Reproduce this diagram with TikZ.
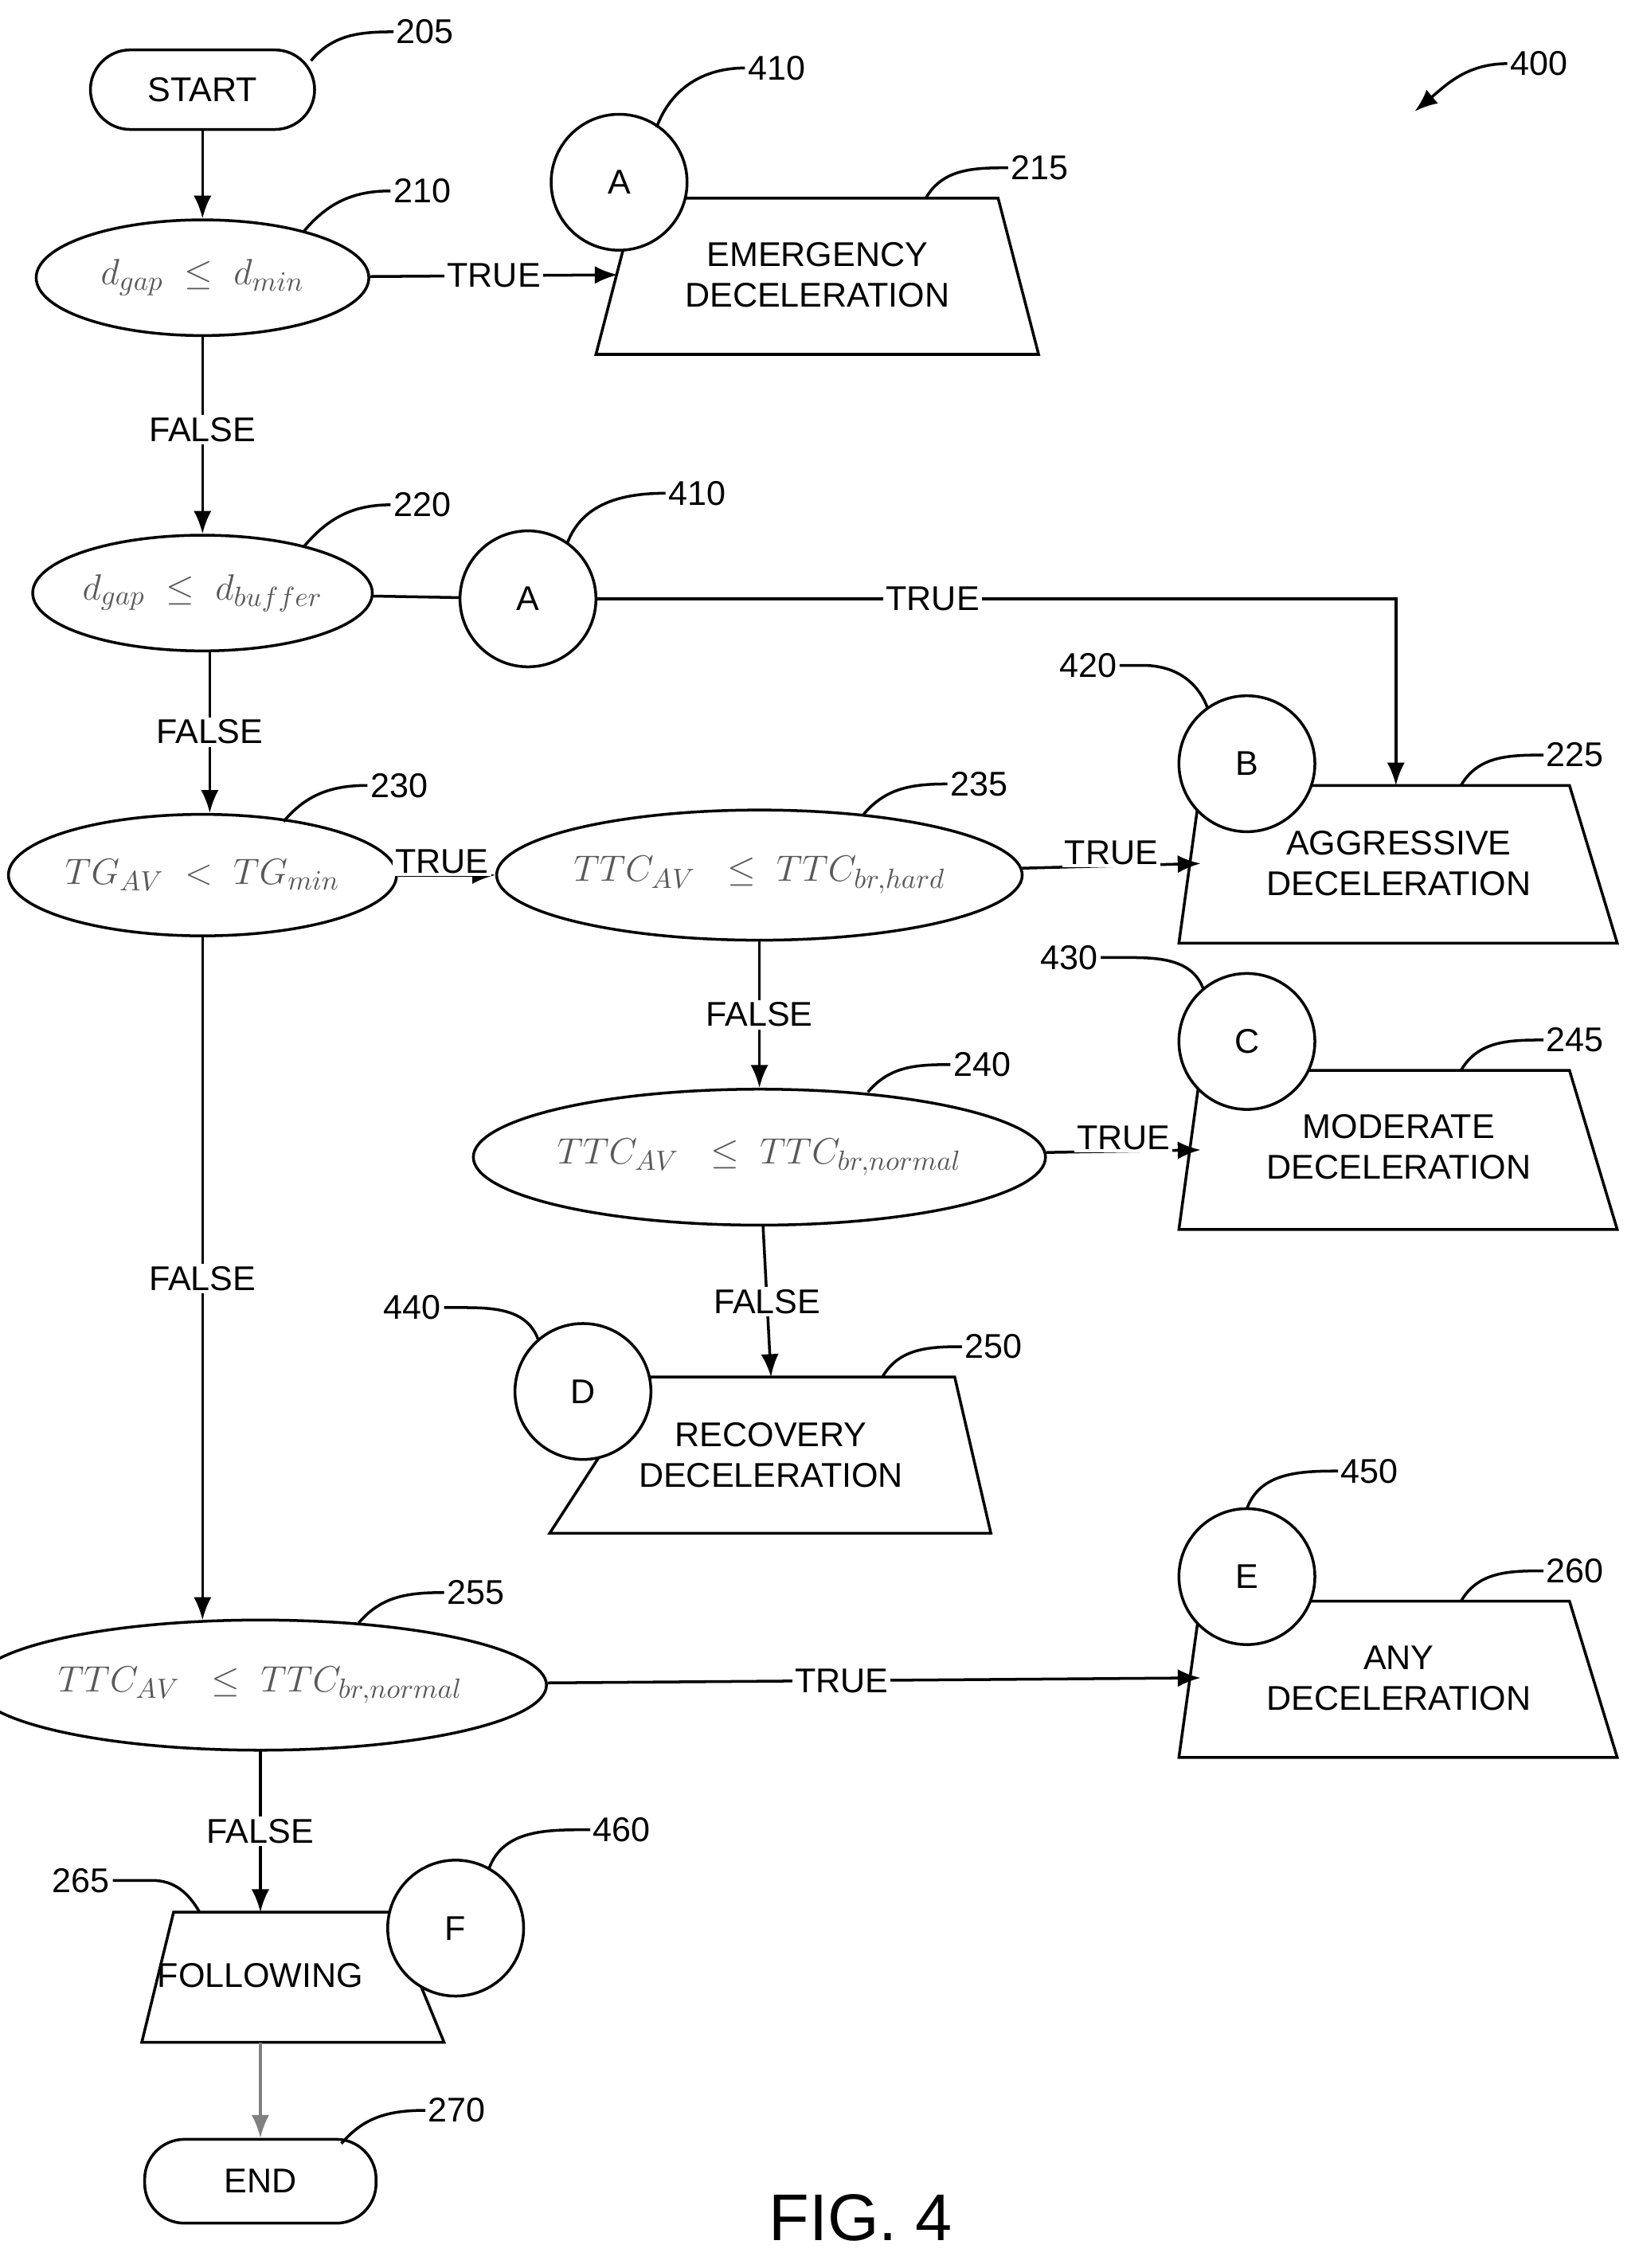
\documentclass[tikz,border=0pt]{standalone}
\usepackage{fontspec}
\setmainfont{Liberation Sans}
\usetikzlibrary{shapes.geometric,arrows.meta}
\begin{document}
\begin{tikzpicture}[x=0.02cm,y=-0.02cm,
  every node/.style={font=\fontsize{13.5}{16}\selectfont},
  ln/.style={line width=1.1pt},
  arr/.style={ln,-{Latex[length=9pt,width=7pt]}},
  el/.style={draw,ellipse,line width=1.1pt,inner sep=0pt,fill=white},
  circ/.style={draw,circle,line width=1.1pt,minimum size=1.88cm,inner sep=0pt,fill=white},
  term/.style={draw,rounded corners=0.55cm,line width=1.1pt,inner sep=0pt},
  lbl/.style={fill=white,inner sep=1pt},
  ref/.style={anchor=west,inner sep=1pt},
  mth/.style={text=gray!70!black,font=\fontsize{15}{16}\selectfont}]
\useasboundingbox (0,0) rectangle (1130,1568);

% start
\node[term,minimum width=3.1cm,minimum height=1.1cm] (start) at (140,62) {START};
\node[el,minimum width=4.6cm,minimum height=1.6cm,mth] (e210) at (140,192) {$d_{gap}\ \le\ d_{min}$};
% 215
\draw[ln] (440,137) coordinate (t215) -- (690,137) -- (718,245) -- (412,245) -- cycle;
\node[align=center] (x215) at (565,190) {EMERGENCY\\DECELERATION};
\node[circ] (A1) at (428,126) {A};

\node[el,minimum width=4.52cm,minimum height=1.6cm,mth] (e220) at (140,410) {$d_{gap}\ \le\ d_{buffer}$};
\node[circ] (A2) at (365,414) {A};

\node[el,minimum width=4.48cm,minimum height=1.68cm,mth] (e230) at (140,605) {$TG_{AV}\ <\ TG_{min}$};
\node[el,minimum width=6.72cm,minimum height=1.8cm,mth] (e235) at (525,605) {$TTC_{AV}\ \ \le\ TTC_{br,hard}$};
\node[el,minimum width=6.8cm,minimum height=1.88cm,mth] (e240) at (525,800) {$TTC_{AV}\ \ \le\ TTC_{br,normal}$};
\node[el,minimum width=6.72cm,minimum height=1.8cm,mth] (e255) at (180,1165) {$TTC_{AV}\ \ \le\ TTC_{br,normal}$};

% trapezoids right
\draw[ln] (830,543) coordinate (t225) -- (1085,543) -- (1118,652) -- (815,652) -- cycle;
\node[align=center] (x225) at (967,597) {AGGRESSIVE\\DECELERATION};
\draw[ln] (830,740) -- (1085,740) -- (1118,850) -- (815,850) -- cycle;
\node[align=center] (x245) at (967,793) {MODERATE\\DECELERATION};
\draw[ln] (450,952) -- (660,952) -- (685,1060) -- (380,1060) -- cycle;
\node[align=center] (x250) at (533,1006) {RECOVERY\\DECELERATION};
\draw[ln] (830,1107) -- (1085,1107) -- (1118,1215) -- (815,1215) -- cycle;
\node[align=center] (x260) at (967,1160) {ANY\\DECELERATION};
\draw[ln] (120,1322) -- (270,1322) -- (307,1412) -- (98,1412) -- cycle;
\node (x265) at (180,1366) {FOLLOWING};

\coordinate (p225) at (965,543);
\coordinate (p225l) at (830,597);
\coordinate (p245l) at (830,795);
\coordinate (p250) at (533,952);
\coordinate (p260l) at (830,1160);
\coordinate (p265t) at (180,1322);
\coordinate (p265b) at (180,1412);
\coordinate (p215l) at (427,190);

\node[circ] (B) at (862,528) {B};
\node[circ] (C) at (862,720) {C};
\node[circ] (D) at (403,962) {D};
\node[circ] (E) at (862,1090) {E};
\node[circ] (F) at (315,1333) {F};

\node[term,minimum width=3.2cm,minimum height=1.16cm] (end) at (180,1508) {END};

% connectors
\draw[arr] (start) -- (e210);
\draw[arr] (e210) -- node[lbl]{TRUE} (p215l);
\draw[arr] (e210) -- node[lbl,pos=0.47]{FALSE} (e220);
\draw[ln] (e220) -- (A2);
\draw[arr] (A2.east) -- (965,414) node[lbl,pos=0.42]{TRUE} -- (p225);
\draw[arr] (145,450) -- node[lbl]{FALSE} (145,562);
\draw[arr] (e230) -- node[lbl,above=-1pt,pos=0.45]{TRUE} (e235);
\draw[arr] (e235) -- node[lbl,above=-1pt]{TRUE} (p225l);
\draw[arr] (e235) -- node[lbl]{FALSE} (e240);
\draw[arr] (e240) -- node[lbl,above=-1pt]{TRUE} (p245l);
\draw[arr] (e240) -- node[lbl]{FALSE} (p250);
\draw[arr] (e230) -- node[lbl]{FALSE} (140,1120);
\draw[arr] (e255) -- node[lbl,pos=0.45]{TRUE} (p260l);
\draw[arr] (180,1210) -- node[lbl]{FALSE} (p265t);
\draw[arr,gray] (p265b) -- (end);

% reference labels
\node[ref] (r205) at (272,22) {205};
\draw[ln] (215,42) to[out=50,in=180] (r205.west);
\node[ref] (r410a) at (515,47) {410};
\draw[ln] (A1.north east) ++(-8,-4) to[out=70,in=180] (r410a.west);
\node[ref] (r215) at (697,116) {215};
\draw[ln] (640,137) to[out=60,in=180] (r215.west);
\node[ref] (r210) at (270,132) {210};
\draw[ln] (210,160) to[out=50,in=180] (r210.west);
\node[ref] (r220) at (270,349) {220};
\draw[ln] (210,378) to[out=50,in=180] (r220.west);
\node[ref] (r410b) at (460,341) {410};
\draw[ln] (392,376) to[out=70,in=180] (r410b.west);
\node[ref] (r230) at (254,543) {230};
\draw[ln] (196,568) to[out=50,in=180] (r230.west);
\node[ref] (r235) at (655,542) {235};
\draw[ln] (597,563) to[out=50,in=180] (r235.west);
\node[ref] (r225) at (1067,522) {225};
\draw[ln] (1010,543) to[out=60,in=180] (r225.west);
\node[anchor=east,inner sep=1pt] (r420) at (774,460) {420};
\draw[ln] (r420.east) -- (790,460) to[out=0,in=110] (835,490);
\node[anchor=east,inner sep=1pt] (r430) at (761,662) {430};
\draw[ln] (r430.east) -- (780,662) to[out=0,in=110] (832,684);
\node[ref] (r240) at (657,736) {240};
\draw[ln] (600,755) to[out=50,in=180] (r240.west);
\node[ref] (r245) at (1067,719) {245};
\draw[ln] (1010,740) to[out=60,in=180] (r245.west);
\node[anchor=east,inner sep=1pt] (r440) at (307,904) {440};
\draw[ln] (r440.east) -- (320,904) to[out=0,in=110] (372,926);
\node[ref] (r250) at (665,931) {250};
\draw[ln] (610,952) to[out=60,in=180] (r250.west);
\node[ref] (r450) at (925,1017) {450};
\draw[ln] (862,1043) to[out=70,in=180] (r450.west);
\node[ref] (r260) at (1067,1086) {260};
\draw[ln] (1010,1107) to[out=60,in=180] (r260.west);
\node[ref] (r255) at (307,1101) {255};
\draw[ln] (248,1122) to[out=50,in=180] (r255.west);
\node[anchor=east,inner sep=1pt] (r265) at (78,1300) {265};
\draw[ln] (r265.east) -- (105,1300) to[out=0,in=120] (138,1322);
\node[ref] (r460) at (408,1265) {460};
\draw[ln] (338,1292) to[out=70,in=180] (r460.west);
\node[ref] (r270) at (294,1459) {270};
\draw[ln] (236,1482) to[out=50,in=180] (r270.west);
\node[ref] (r400) at (1042,44) {400};
\coordinate (a400) at (978,77);
\draw[arr] (r400.west) to[out=180,in=40] (a400);

\node[font=\fontsize{26}{30}\selectfont] (fig) at (595,1533) {FIG. 4};
\end{tikzpicture}
\end{document}
